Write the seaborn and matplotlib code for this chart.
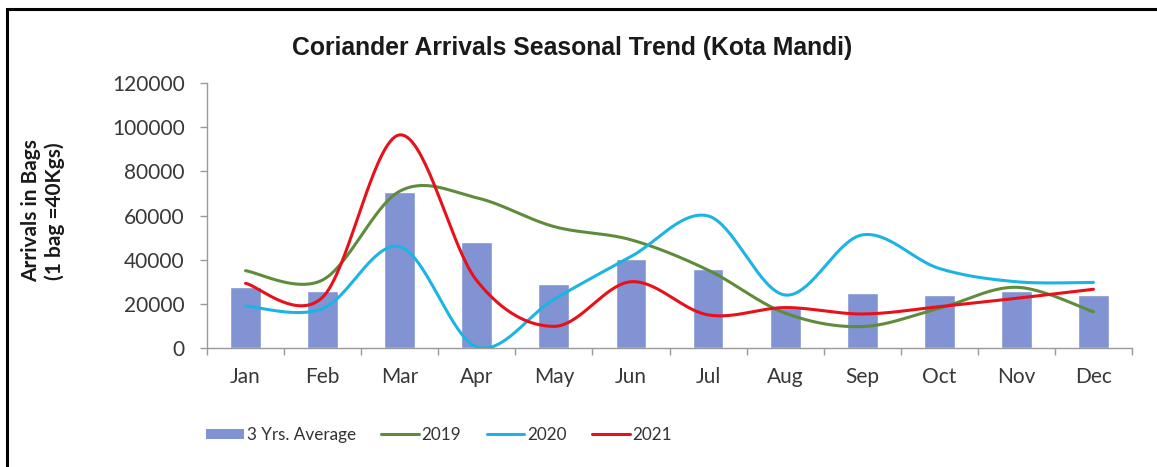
import numpy as np
import pandas as pd
import matplotlib
matplotlib.use("Agg")
import matplotlib.pyplot as plt
from matplotlib.patches import Patch, Rectangle
from matplotlib.lines import Line2D
import seaborn as sns

months = ["Jan", "Feb", "Mar", "Apr", "May", "Jun", "Jul", "Aug", "Sep", "Oct", "Nov", "Dec"]
avg_3yrs = [27500, 25800, 70800, 48100, 29000, 40200, 35900, 18000, 24800, 23900, 26000, 23900]
arr_2019 = [35000, 30800, 71000, 68000, 55000, 49000, 35300, 15800, 9700, 18000, 27500, 16400]
arr_2020 = [19000, 17800, 45900, 500, 22000, 41400, 59800, 24000, 51200, 36000, 30000, 29700]
arr_2021 = [29300, 23000, 96500, 30500, 9800, 30000, 15000, 18300, 15400, 18700, 22500, 26600]

series_names = ["2019", "2020", "2021"]
series_values = [arr_2019, arr_2020, arr_2021]
series_colors = ["#5f8c3c", "#1cb5e3", "#e8101a"]
bar_color = "#8193d2"

sns.set_theme(style="white")
plt.rcParams["font.family"] = ["Lato", "DejaVu Sans"]


def smooth_curve(values, steps=40):
    """Bezier smoothing through every point (Catmull-Rom style control points)."""
    y = np.asarray(values, dtype=float)
    x = np.arange(len(y), dtype=float)
    pts = np.column_stack([x, y])
    padded = np.vstack([pts[0], pts, pts[-1]])
    out = []
    t = np.linspace(0, 1, steps)[:, None]
    for i in range(len(pts) - 1):
        p0, p1, p2, p3 = padded[i], padded[i + 1], padded[i + 2], padded[i + 3]
        c1 = p1 + (p2 - p0) / 6.0
        c2 = p2 - (p3 - p1) / 6.0
        seg = ((1 - t) ** 3) * p1 + 3 * ((1 - t) ** 2) * t * c1 + 3 * (1 - t) * t ** 2 * c2 + t ** 3 * p2
        out.append(seg if i == 0 else seg[1:])
    curve = np.vstack(out)
    return curve[:, 0], curve[:, 1]


fig = plt.figure(figsize=(11.57, 4.67), dpi=100)
ax = fig.add_axes([207 / 1157, 1 - 348 / 467, 925 / 1157, 265 / 467])

bars = pd.DataFrame({"Month": months, "Arrivals": avg_3yrs})
sns.barplot(data=bars, x="Month", y="Arrivals", color=bar_color, width=0.4,
            saturation=1, ax=ax, zorder=2)

for name, vals, col in zip(series_names, series_values, series_colors):
    xs, ys = smooth_curve(vals)
    sns.lineplot(x=xs, y=ys, sort=False, estimator=None, color=col, linewidth=2.2,
                 ax=ax, zorder=3)

ax.set_xlim(-0.5, 11.5)
ax.set_ylim(0, 120000)
ax.set_yticks(np.arange(0, 120001, 20000))
ax.set_yticklabels([f"{v:d}" for v in range(0, 120001, 20000)], fontsize=15, color="#383838")

# category labels centred, tick marks on category boundaries
ax.set_xticks(range(12))
ax.set_xticklabels(months, fontsize=15, color="#383838")
ax.tick_params(axis="x", length=0, pad=14)
ax.set_xticks(np.arange(-0.5, 12, 1), minor=True)
ax.tick_params(axis="x", which="minor", length=5, color="#9a9a9a", width=1, direction="out", bottom=True)
ax.tick_params(axis="y", length=5, color="#9a9a9a", width=1, direction="out", left=True, pad=11)

for side in ["top", "right"]:
    ax.spines[side].set_visible(False)
for side in ["left", "bottom"]:
    ax.spines[side].set_color("#9a9a9a")
    ax.spines[side].set_linewidth(1)
ax.set_xlabel("")
ax.set_ylabel("")
ax.grid(False)

fig.text(572 / 1157, 1 - 48 / 467, "Coriander Arrivals Seasonal Trend (Kota Mandi)",
         ha="center", va="center", fontsize=17.8, fontweight="bold",
         family=["Liberation Sans", "DejaVu Sans"], color="#1a1a1a")

fig.text(43 / 1157, 1 - 211 / 467, "Arrivals in Bags\n(1 bag =40Kgs)", rotation=90,
         ha="center", va="center", fontsize=15, fontweight="bold", color="#1a1a1a",
         linespacing=1.15)

handles = [Patch(facecolor=bar_color, edgecolor="none", label="3 Yrs. Average")]
for name, col in zip(series_names, series_colors):
    handles.append(Line2D([0], [0], color=col, linewidth=2.2, label=name))
fig.legend(handles=handles, loc="center left", bbox_to_anchor=(191 / 1157, 1 - 435 / 467),
           ncol=4, frameon=False, fontsize=12.3, handlelength=2.2, handleheight=0.55,
           handletextpad=0.15, columnspacing=1.5, labelcolor="#333333")

# outer chart frame (left and top edges visible)
fig.patches.append(Rectangle((7 / 1157, -0.05), 1.2, 1 - 9 / 467 + 0.05,
                             transform=fig.transFigure, fill=False,
                             edgecolor="black", linewidth=2.2))

fig.savefig("out.png", dpi=100)
